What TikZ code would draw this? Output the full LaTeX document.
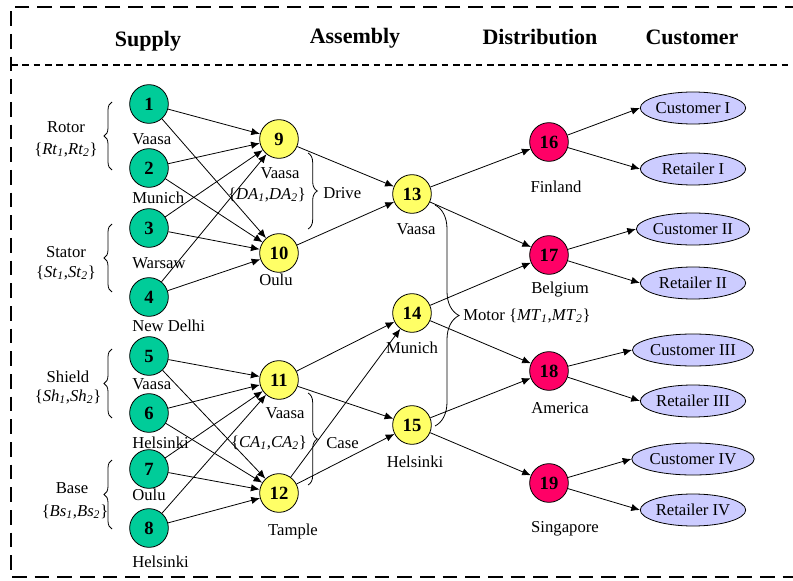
\documentclass[tikz,border=0pt]{standalone}
\usepackage{fontspec}
\setmainfont{Liberation Serif}
\usetikzlibrary{shapes.geometric,decorations.pathreplacing,arrows.meta}

\definecolor{supgreen}{RGB}{0,204,153}
\definecolor{asmyellow}{RGB}{255,255,102}
\definecolor{dstred}{RGB}{255,0,102}
\definecolor{cstblue}{RGB}{204,204,255}
\newcommand{\sbi}[1]{\textsubscript{\textit{#1}}}

\begin{document}
\begin{tikzpicture}[x=0.75pt,y=-0.75pt,font=\fontsize{12.5}{14}\selectfont]
    \tikzstyle{S}=[circle,draw,line width=0.6pt,fill=supgreen,minimum size=29pt,inner sep=0pt,font=\fontsize{14}{14}\selectfont\bfseries]
    \tikzstyle{A}=[S,fill=asmyellow]
    \tikzstyle{D}=[S,fill=dstred]
    \tikzstyle{C}=[ellipse,draw,line width=0.6pt,fill=cstblue,minimum width=79pt,minimum height=24pt,inner sep=0pt]
    \tikzstyle{E}=[-{Latex[length=6.5pt,width=5.5pt]},line width=0.6pt]
    \tikzstyle{B}=[decorate,line width=0.6pt]
    \tikzstyle{H}=[font=\fontsize{16.5}{18}\selectfont\bfseries]
    \tikzstyle{W}=[anchor=west,inner sep=0pt]

    \useasboundingbox (0,0) rectangle (793,581);

    % Frame
    \draw [line width=1.3pt,dash pattern=on 11pt off 6pt] (800,7) -- (11,7) -- (11,577) -- (800,577);
    \draw [line width=0.9pt,dash pattern=on 5pt off 3.5pt] (11,65) -- (800,65);

    \node [H] (hsup) at (148,41) {Supply};
    \node [H] (hasm) at (355,38) {Assembly};
    \node [H] (hdst) at (540,37) {Distribution};
    \node [H] (hcst) at (692,37) {Customer};

    % Supply
    \node [S] (n1) at (149,104) {1};
    \node [S] (n2) at (149,168) {2};
    \node [S] (n3) at (149,228) {3};
    \node [S] (n4) at (149,297) {4};
    \node [S] (n5) at (149,356) {5};
    \node [S] (n6) at (149,413) {6};
    \node [S] (n7) at (149,469) {7};
    \node [S] (n8) at (149,528) {8};
    \node [W] (l1) at (132,139) {Vaasa};
    \node [W] (l2) at (132,198) {Munich};
    \node [W] (l3) at (132,263) {Warsaw};
    \node [W] (l4) at (132,326) {New Delhi};
    \node [W] (l5) at (132,384) {Vaasa};
    \node [W] (l6) at (132,443) {Helsinki};
    \node [W] (l7) at (132,495) {Oulu};
    \node [W] (l8) at (132,562) {Helsinki};

    \node (rotor) at (66,127) {Rotor};
    \node (rotorset) at (66,150) {\{\textit{Rt}\sbi{1},\textit{Rt}\sbi{2}\}};
    \node (stator) at (66,252) {Stator};
    \node (statorset) at (66,273) {\{\textit{St}\sbi{1},\textit{St}\sbi{2}\}};
    \node (shield) at (68,377) {Shield};
    \node (shieldset) at (68,397) {\{\textit{Sh}\sbi{1},\textit{Sh}\sbi{2}\}};
    \node (base) at (72,488) {Base};
    \node (baseset) at (75,512) {\{\textit{Bs}\sbi{1},\textit{Bs}\sbi{2}\}};
    \draw [B,decoration={brace,amplitude=6pt}] (112,170) -- (112,102);
    \draw [B,decoration={brace,amplitude=6pt}] (112,292) -- (112,224);
    \draw [B,decoration={brace,amplitude=6pt}] (112,418) -- (112,349);
    \draw [B,decoration={brace,amplitude=6pt}] (112,529) -- (112,460);

    % Assembly
    \node [A] (n9) at (279,139) {9};
    \node [A] (n10) at (279,253) {10};
    \node [A] (n11) at (279,380) {11};
    \node [A] (n12) at (279,493) {12};
    \node (l9) at (280,173) {Vaasa};
    \node (drvset) at (267,195) {\{\textit{DA}\sbi{1},\textit{DA}\sbi{2}\}};
    \node (l10) at (276,280) {Oulu};
    \node (l11) at (285,413) {Vaasa};
    \node (casset) at (269,443) {\{\textit{CA}\sbi{1},\textit{CA}\sbi{2}\}};
    \node (l12) at (293,531) {Tample};
    \draw [B,decoration={brace,amplitude=7pt}] (308,153) -- (308,229);
    \draw [B,decoration={brace,amplitude=7pt}] (308,393) -- (308,485);
    \node [W] (drive) at (323,193) {Drive};
    \node [W] (case) at (326,443) {Case};

    \node [A] (n13) at (412,194) {13};
    \node [A] (n14) at (412,313) {14};
    \node [A] (n15) at (412,425) {15};
    \node (l13) at (416,229) {Vaasa};
    \node (l14) at (412,348) {Munich};
    \node (l15) at (415,462) {Helsinki};
    \draw [B,decoration={brace,amplitude=18pt}] (435,205) -- (435,426);
    \node [W] (motor) at (463,316) {Motor \{\textit{MT}\sbi{1},\textit{MT}\sbi{2}\}};

    % Distribution
    \node [D] (n16) at (549,142) {16};
    \node [D] (n17) at (549,255) {17};
    \node [D] (n18) at (549,371) {18};
    \node [D] (n19) at (549,483) {19};
    \node (l16) at (556,187) {Finland};
    \node (l17) at (560,290) {Belgium};
    \node (l18) at (560,408) {America};
    \node (l19) at (565,529) {Singapore};

    % Customer
    \node [C] (c1) at (693,108) {Customer I};
    \node [C] (r1) at (693,169) {Retailer I};
    \node [C] (c2) at (693,229) {Customer II};
    \node [C] (r2) at (693,283) {Retailer II};
    \node [C] (c3) at (693,350) {Customer III};
    \node [C] (r3) at (693,401) {Retailer III};
    \node [C] (c4) at (693,459) {Customer IV};
    \node [C] (r4) at (693,510) {Retailer IV};

    % Flows
    \draw [E] (n1) -- (n9);  \draw [E] (n1) -- (n10);
    \draw [E] (n2) -- (n9);  \draw [E] (n2) -- (n10);
    \draw [E] (n3) -- (n9);  \draw [E] (n3) -- (n10);
    \draw [E] (n4) -- (n9);  \draw [E] (n4) -- (n10);
    \draw [E] (n5) -- (n11); \draw [E] (n5) -- (n12);
    \draw [E] (n6) -- (n11); \draw [E] (n6) -- (n12);
    \draw [E] (n7) -- (n11); \draw [E] (n7) -- (n12);
    \draw [E] (n8) -- (n11); \draw [E] (n8) -- (n12);

    \draw [E] (n9) -- (n13);  \draw [E] (n10) -- (n13);
    \draw [E] (n11) -- (n14); \draw [E] (n11) -- (n15);
    \draw [E] (n12) -- (n14); \draw [E] (n12) -- (n15);

    \draw [E] (n13) -- (n16); \draw [E] (n13) -- (n17);
    \draw [E] (n14) -- (n17); \draw [E] (n14) -- (n18);
    \draw [E] (n15) -- (n18); \draw [E] (n15) -- (n19);

    \draw [E] (n16) -- (c1.west); \draw [E] (n16) -- (r1.west);
    \draw [E] (n17) -- (c2.west); \draw [E] (n17) -- (r2.west);
    \draw [E] (n18) -- (c3.west); \draw [E] (n18) -- (r3.west);
    \draw [E] (n19) -- (c4.west); \draw [E] (n19) -- (r4.west);
\end{tikzpicture}
\end{document}
